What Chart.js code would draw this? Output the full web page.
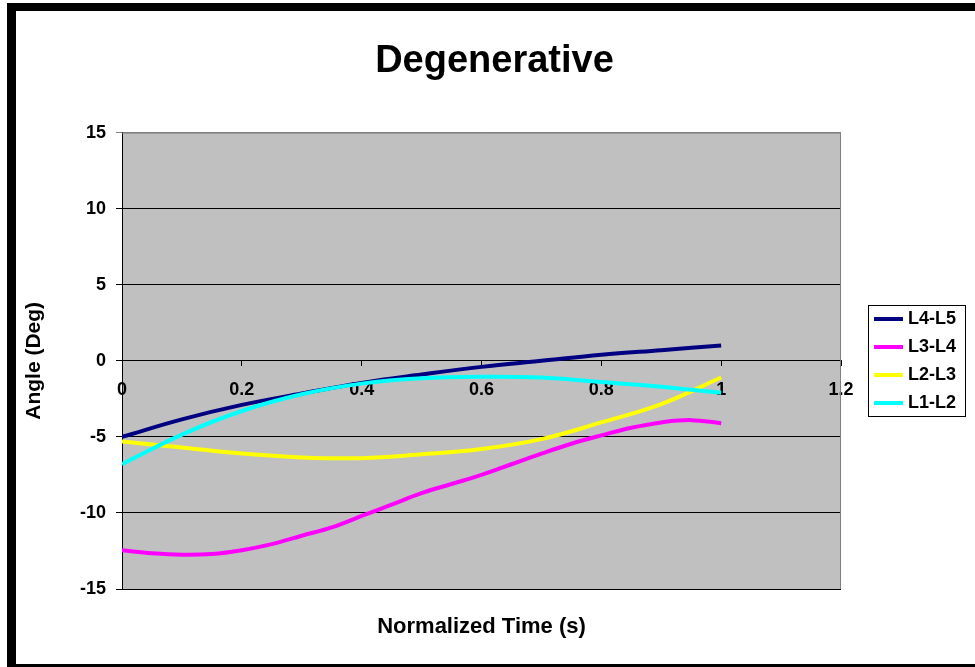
<!DOCTYPE html>
<html lang="en">
<head>
    <meta charset="UTF-8">
    <title>Degenerative</title>
    <script src="https://cdn.jsdelivr.net/npm/chart.js@4/dist/chart.umd.min.js"></script>
    <style>
        body { margin: 0; background: #fff; }
        #frame {
            position: absolute; left: 7px; top: 3px; width: 980px; height: 670px;
            box-sizing: border-box; border: 0 solid #000;
            border-top-width: 8px; border-left-width: 9px; border-bottom-width: 9px;
            pointer-events: none;
        }
    </style>
</head>
<body>
    <canvas id="angleChart" width="975" height="667"></canvas>
    <div id="frame"></div>

    <script>
        // normalized time samples
        const timeCoarse = [0, 0.1, 0.2, 0.3, 0.4, 0.5, 0.6, 0.7, 0.8, 0.9, 1.0];
        const timeFine = [0, 0.05, 0.1, 0.15, 0.2, 0.25, 0.3, 0.35, 0.4, 0.45, 0.5,
                          0.55, 0.6, 0.65, 0.7, 0.75, 0.8, 0.85, 0.9, 0.95, 1.0];

        const seriesNames = ["L4-L5", "L3-L4", "L2-L3", "L1-L2"];
        const seriesColors = ["#000080", "#FF00FF", "#FFFF00", "#00FFFF"];

        const l4l5 = [-5.0, -3.85, -2.9, -2.15, -1.45, -0.9, -0.4, 0.0, 0.4, 0.7, 1.0];
        const l3l4 = [-12.45, -12.65, -12.75, -12.7, -12.45, -12.05, -11.5, -10.95, -10.2, -9.45, -8.7,
                      -8.1, -7.5, -6.8, -6.1, -5.45, -4.9, -4.4, -4.05, -3.9, -4.1];
        const l2l3 = [-5.3, -5.7, -6.1, -6.35, -6.4, -6.15, -5.8, -5.15, -4.05, -2.85, -1.1];
        const l1l2 = [-6.8, -4.85, -3.3, -2.2, -1.5, -1.15, -1.05, -1.1, -1.4, -1.7, -2.1];

        const xTicks = [0, 0.2, 0.4, 0.6, 0.8, 1.0, 1.2];
        const yTicks = [-15, -10, -5, 0, 5, 10, 15];

        function pairs(xs, ys) {
            return ys.map((y, i) => ({x: xs[i], y: y}));
        }

        const seriesData = [
            pairs(timeCoarse, l4l5),
            pairs(timeFine, l3l4),
            pairs(timeCoarse, l2l3),
            pairs(timeCoarse, l1l2)
        ];
        const drawOrder = [2, 3, 1, 0];

        const boldFont = (size) => ({family: "'Liberation Sans', Arial, sans-serif", size: size, weight: "bold"});

        // grey plot area and its outline
        const plotArea = {
            id: "plotArea",
            beforeDraw(chart) {
                const {ctx, chartArea: a} = chart;
                ctx.save();
                ctx.fillStyle = "#C0C0C0";
                ctx.fillRect(a.left, a.top, a.right - a.left, a.bottom - a.top);
                ctx.restore();
            },
            beforeDatasetsDraw(chart) {
                const {ctx, chartArea: a} = chart;
                ctx.save();
                ctx.strokeStyle = "#808080";
                ctx.lineWidth = 1;
                ctx.beginPath();
                ctx.moveTo(a.left, a.top + 0.5);
                ctx.lineTo(a.right - 0.5, a.top + 0.5);
                ctx.lineTo(a.right - 0.5, a.bottom);
                ctx.stroke();
                ctx.restore();
            }
        };

        // boxed legend on the right, like the spreadsheet one
        const boxLegend = {
            id: "boxLegend",
            afterDraw(chart) {
                const ctx = chart.ctx;
                const left = 868, top = 305, w = 98, h = 112;
                ctx.save();
                ctx.fillStyle = "#fff";
                ctx.fillRect(left, top, w, h);
                ctx.strokeStyle = "#000";
                ctx.lineWidth = 1;
                ctx.strokeRect(left + 0.5, top + 0.5, w - 1, h - 1);
                ctx.font = "bold 18px 'Liberation Sans', Arial, sans-serif";
                ctx.textBaseline = "middle";
                ctx.fillStyle = "#000";
                seriesNames.forEach((name, i) => {
                    const y = top + 14 + i * 28;
                    ctx.strokeStyle = seriesColors[i];
                    ctx.lineWidth = 4;
                    ctx.beginPath();
                    ctx.moveTo(874, y);
                    ctx.lineTo(903, y);
                    ctx.stroke();
                    ctx.fillText(name, 908, y);
                });
                ctx.restore();
            }
        };

        const angleChart = new Chart(document.getElementById("angleChart"), {
            type: "line",
            data: {
                datasets: seriesNames.map((name, i) => ({
                    label: name,
                    data: seriesData[i],
                    borderColor: seriesColors[i],
                    backgroundColor: seriesColors[i],
                    borderWidth: 4,
                    pointRadius: 0,
                    tension: 0.4,
                    fill: false,
                    order: drawOrder[i]
                }))
            },
            options: {
                responsive: false,
                animation: false,
                devicePixelRatio: 1,
                layout: {padding: {left: 14, right: 0, top: 0, bottom: 0}},
                plugins: {
                    legend: {display: false},
                    tooltip: {enabled: false},
                    title: {
                        display: true,
                        text: "Degenerative",
                        color: "#000",
                        font: boldFont(38),
                        padding: {top: 39, bottom: 48}
                    }
                },
                scales: {
                    x: {
                        type: "linear",
                        position: {y: 0},
                        min: 0,
                        max: 1.2,
                        afterBuildTicks: (scale) => { scale.ticks = xTicks.map(v => ({value: v})); },
                        grid: {drawOnChartArea: false, drawTicks: true, tickLength: 5, color: "#000"},
                        border: {display: true, color: "#000", width: 1},
                        ticks: {
                            color: "#000",
                            font: boldFont(18),
                            padding: 13,
                            maxRotation: 0,
                            callback: (v) => String(Number(v.toFixed(1)))
                        }
                    },
                    xTitle: {
                        type: "linear",
                        position: "bottom",
                        min: 0,
                        max: 1.2,
                        grid: {display: false},
                        border: {display: false},
                        ticks: {display: false},
                        afterFit: (scale) => { scale.height = 78; },
                        title: {
                            display: true,
                            text: "Normalized Time (s)",
                            color: "#000",
                            font: boldFont(22),
                            padding: {top: 0, bottom: 27}
                        }
                    },
                    y: {
                        min: -15,
                        max: 15,
                        afterBuildTicks: (scale) => { scale.ticks = yTicks.map(v => ({value: v})); },
                        afterFit: (scale) => { scale.width = 108; },
                        grid: {
                            color: (c) => (c.tick && c.tick.value === 15 ? "#808080" : "#000"),
                            lineWidth: 1,
                            drawTicks: true,
                            tickLength: 6
                        },
                        border: {display: true, color: "#000", width: 1},
                        ticks: {color: "#000", font: boldFont(18), padding: 10},
                        title: {
                            display: true,
                            text: "Angle (Deg)",
                            color: "#000",
                            font: boldFont(21),
                            padding: {top: 8, bottom: 0}
                        }
                    },
                    ySpace: {
                        position: "right",
                        min: -15,
                        max: 15,
                        grid: {display: false},
                        border: {display: false},
                        ticks: {display: false},
                        afterFit: (scale) => { scale.width = 134; }
                    }
                }
            },
            plugins: [plotArea, boxLegend]
        });
    </script>
</body>
</html>
